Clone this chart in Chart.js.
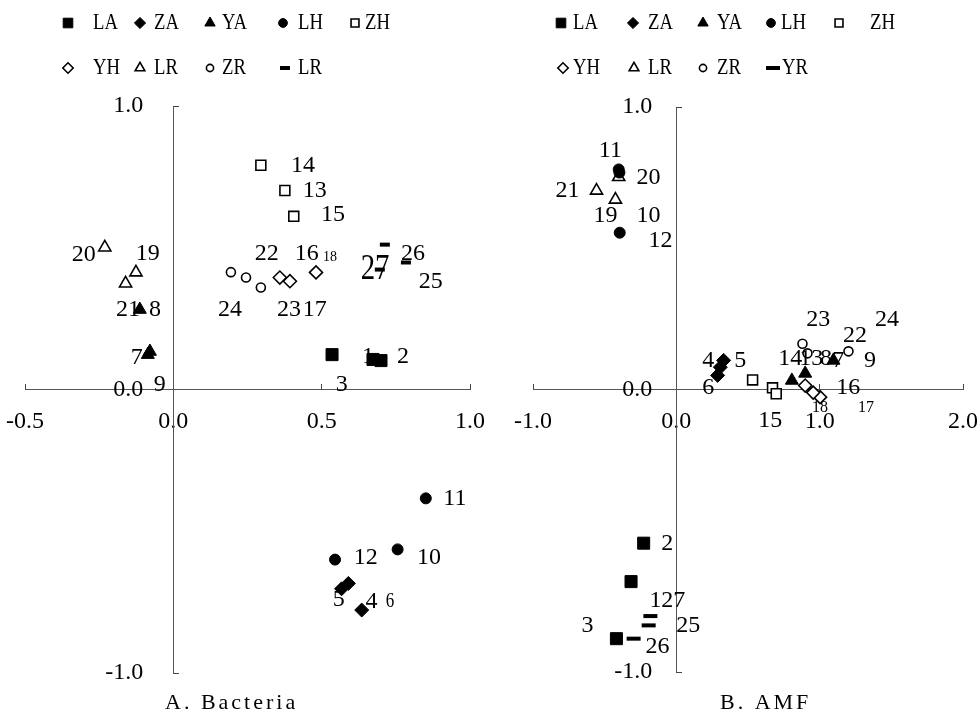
<!DOCTYPE html>
<html>
<head>
<meta charset="utf-8">
<script src="https://cdn.jsdelivr.net/npm/chart.js@4.4.1/dist/chart.umd.min.js"></script>
<style>
  html, body { margin: 0; padding: 0; background: #fff; }
  #wrap { position: relative; width: 977px; height: 716px; }
  #wrap canvas { position: absolute; left: 0; top: 0; }
</style>
</head>
<body>
<div id="wrap">
  <canvas id="bac" width="977" height="716"></canvas>
  <canvas id="amf" width="977" height="716"></canvas>
</div>
<script>
// Group order, 3 samples each: LA 1-3, ZA 4-6, YA 7-9, LH 10-12, ZH 13-15, YH 16-18, LR 19-21, ZR 22-24, YR 25-27
const seriesKeys = ['LA', 'ZA', 'YA', 'LH', 'ZH', 'YH', 'LR', 'ZR', 'YR'];
const bacLegendText = ['LA', 'ZA', 'YA', 'LH', 'ZH', 'YH', 'LR', 'ZR', 'LR'];
const amfLegendText = ['LA', 'ZA', 'YA', 'LH', 'ZH', 'YH', 'LR', 'ZR', 'YR'];

const bacXTicks = [-0.5, 0.0, 0.5, 1.0];
const amfXTicks = [-1.0, 0.0, 1.0, 2.0];
const yTicks = [-1.0, 0.0, 1.0];

// A. Bacteria scores
const bacLA = [[0.673, 0.106], [0.700, 0.102], [0.535, 0.123]];
const bacZA = [[0.635, -0.778], [0.567, -0.703], [0.590, -0.684]];
const bacYA = [[-0.086, 0.123], [-0.113, 0.282], [-0.079, 0.134]];
const bacLH = [[0.756, -0.564], [0.851, -0.384], [0.545, -0.600]];
const bacZH = [[0.376, 0.702], [0.295, 0.791], [0.406, 0.611]];
const bacYH = [[0.481, 0.413], [0.393, 0.382], [0.359, 0.395]];
const bacLR = [[-0.126, 0.413], [-0.231, 0.501], [-0.161, 0.374]];
const bacZR = [[0.245, 0.395], [0.295, 0.360], [0.194, 0.414]];
const bacYR = [[0.784, 0.448], [0.713, 0.511], [0.696, 0.423]];

// B. AMF scores
const amfLA = [[-0.316, -0.680], [-0.228, -0.544], [-0.418, -0.882]];
const amfZA = [[0.330, 0.103], [0.307, 0.079], [0.288, 0.050]];
const amfYA = [[0.899, 0.057], [0.806, 0.032], [1.096, 0.103]];
const amfLH = [[-0.397, 0.768], [-0.402, 0.779], [-0.395, 0.555]];
const amfZH = [[0.671, 0.006], [0.697, -0.015], [0.532, 0.034]];
const amfYH = [[0.899, 0.014], [1.003, -0.027], [0.955, -0.011]];
const amfLR = [[-0.425, 0.672], [-0.402, 0.752], [-0.557, 0.704]];
const amfZR = [[1.201, 0.135], [0.880, 0.162], [0.915, 0.128]];
const amfYR = [[-0.193, -0.835], [-0.298, -0.882], [-0.181, -0.802]];

// sample number labels as placed in the figure: [text, x, y] in axis units
const bacLabels = [
  ['1', 0.656, 0.116], ['2', 0.774, 0.116], ['3', 0.568, 0.018],
  ['4', 0.668, -0.750], ['5', 0.558, -0.741], ['6', 0.730, -0.750],
  ['7', -0.123, 0.113], ['8', -0.062, 0.282], ['9', -0.046, 0.018],
  ['10', 0.862, -0.592], ['11', 0.949, -0.384], ['12', 0.649, -0.592],
  ['13', 0.477, 0.702], ['14', 0.437, 0.790], ['15', 0.538, 0.617],
  ['16', 0.450, 0.480], ['17', 0.477, 0.282], ['18', 0.528, 0.466],
  ['19', -0.086, 0.480], ['20', -0.302, 0.476], ['21', -0.153, 0.282],
  ['22', 0.315, 0.480], ['23', 0.390, 0.282], ['24', 0.191, 0.282],
  ['25', 0.868, 0.381], ['26', 0.808, 0.480], ['27', 0.680, 0.423]
];
const amfLabels = [
  ['1', -0.146, -0.747], ['2', -0.063, -0.545], ['3', -0.620, -0.835],
  ['4', 0.223, 0.103], ['5', 0.446, 0.103], ['6', 0.223, 0.007],
  ['7', 1.129, 0.103], ['8', 1.045, 0.110], ['9', 1.352, 0.103],
  ['10', -0.195, 0.616], ['11', -0.460, 0.846], ['12', -0.111, 0.527],
  ['13', 0.941, 0.110], ['14', 0.794, 0.110], ['15', 0.655, -0.110],
  ['16', 1.199, 0.007], ['17', 1.324, -0.064], ['18', 1.003, -0.064],
  ['19', -0.495, 0.616], ['20', -0.195, 0.750], ['21', -0.760, 0.704],
  ['22', 1.247, 0.191], ['23', 0.990, 0.248], ['24', 1.470, 0.248],
  ['25', 0.084, -0.835], ['26', -0.132, -0.910], ['27', -0.021, -0.747]
];

// ---- styles ----
const FONT = '"Liberation Serif", "DejaVu Serif", serif';
const markStyle = {
  LA: { pointStyle: 'rect', radius: 8.5, filled: true },
  ZA: { pointStyle: 'rectRot', radius: 7, filled: true },
  YA: { pointStyle: 'triangle', radius: 7.5, filled: true },
  LH: { pointStyle: 'circle', radius: 5.5, filled: true },
  ZH: { pointStyle: 'rect', radius: 7, filled: false },
  YH: { pointStyle: 'rectRot', radius: 6.5, filled: false },
  LR: { pointStyle: 'triangle', radius: 7, filled: false },
  ZR: { pointStyle: 'circle', radius: 4.5, filled: false },
  YR: { pointStyle: 'line', radius: 5, filled: true, width: 4 }
};

function makeDatasets(series, yrRadius) {
  return seriesKeys.map((k, i) => {
    const s = markStyle[k];
    return {
      label: k,
      data: series[i].map(([x, y]) => ({ x, y })),
      pointStyle: s.pointStyle,
      pointRadius: k === 'YR' ? yrRadius : s.radius,
      pointBackgroundColor: s.filled ? '#000' : '#fff',
      pointBorderColor: '#000',
      pointBorderWidth: s.width || (s.filled ? 1 : 1.6),
      clip: false
    };
  });
}

function drawText(ctx, text, x, y, size, sx, align, spacing) {
  ctx.save();
  ctx.translate(x, y);
  ctx.scale(sx, 1);
  ctx.font = size + 'px ' + FONT;
  ctx.textAlign = align;
  ctx.textBaseline = 'middle';
  if (spacing) ctx.letterSpacing = spacing;
  ctx.fillText(text, 0, 0);
  ctx.restore();
}

// sample labels, legend rows and caption
const annotate = {
  id: 'annotate',
  afterDatasetsDraw(chart, args, o) {
    const ctx = chart.ctx, xs = chart.scales.x, ys = chart.scales.y;
    ctx.save();
    ctx.fillStyle = '#000';
    o.labels.forEach(([t, vx, vy]) => {
      const f = o.labelFont[t] || [24, 1];
      drawText(ctx, t, xs.getPixelForValue(vx), ys.getPixelForValue(vy), f[0], f[1], 'center');
    });

    seriesKeys.forEach((k, i) => {
      const row = i < 5 ? 0 : 1, col = i < 5 ? i : i - 5;
      const my = o.legendY[row];
      const s = markStyle[k];
      const r = k === 'YR' ? o.yrRadius : s.radius * 0.8;
      ctx.fillStyle = s.filled ? '#000' : '#fff';
      ctx.strokeStyle = '#000';
      ctx.lineWidth = s.width || (s.filled ? 1 : 1.6);
      Chart.helpers.drawPoint(ctx, { pointStyle: s.pointStyle, radius: r, borderWidth: ctx.lineWidth, rotation: 0 },
        o.legendMarkX[row][col], my);
      ctx.fillStyle = '#000';
      drawText(ctx, o.legendText[i], o.legendTextX[row][col], my, 24, 0.78, 'left');
    });

    drawText(ctx, o.caption, o.captionX, 703, 22, 1, 'left', '3px');
    ctx.restore();
  }
};

// axes cross at the origin; they take no layout room, so the padding alone sets the plot box
function axis(ticks, pos, horizontal, gap) {
  return {
    type: 'linear',
    min: ticks[0],
    max: ticks[ticks.length - 1],
    position: pos,
    afterFit: s => {
      if (horizontal) s.height = 0; else s.width = 0;
      s.paddingLeft = s.paddingRight = s.paddingTop = s.paddingBottom = 0;
    },
    afterBuildTicks: s => { s.ticks = ticks.map(v => ({ value: v })); },
    ticks: {
      font: { family: FONT, size: 24 },
      color: '#000',
      padding: 24,
      maxRotation: 0,
      autoSkip: false,
      // y labels sit right-aligned on the axis line, trailing spaces push them off it
      callback: v => Number(v).toFixed(1) + gap
    },
    grid: { drawOnChartArea: false, drawTicks: true, tickLength: -6, color: '#444', lineWidth: 1 },
    border: { display: true, color: '#555', width: 1 }
  };
}

function makeChart(id, series, xTicks, pad, yGap, yrRadius, annot) {
  return new Chart(document.getElementById(id), {
    type: 'scatter',
    data: { datasets: makeDatasets(series, yrRadius) },
    options: {
      responsive: false,
      animation: false,
      events: [],
      layout: { padding: pad },
      plugins: {
        legend: { display: false },
        tooltip: { enabled: false },
        annotate: Object.assign({ yrRadius }, annot)
      },
      scales: {
        x: axis(xTicks, { y: 0 }, true, ''),
        y: axis(yTicks, { x: 0 }, false, yGap)
      }
    },
    plugins: [annotate]
  });
}

makeChart('bac',
  [bacLA, bacZA, bacYA, bacLH, bacZH, bacYH, bacLR, bacZR, bacYR],
  bacXTicks, { left: 25, right: 507, top: 106, bottom: 43 }, '     ', 5,
  {
    labels: bacLabels,
    labelFont: { '27': [36, 0.8], '18': [14, 1], '6': [20, 0.85] },
    legendText: bacLegendText,
    legendY: [23, 68],
    legendMarkX: [[68, 140, 210, 283, 355], [68, 140, 210, 285]],
    legendTextX: [[93, 154, 222, 298, 365], [93, 154, 222, 298]],
    caption: 'A. Bacteria',
    captionX: 165
  });

makeChart('amf',
  [amfLA, amfZA, amfYA, amfLH, amfZH, amfYH, amfLR, amfZR, amfYR],
  amfXTicks, { left: 533, right: 14, top: 107, bottom: 44 }, '    ', 7,
  {
    labels: amfLabels,
    labelFont: { '17': [16, 1], '18': [16, 1] },
    legendText: amfLegendText,
    legendY: [23, 68],
    legendMarkX: [[561, 633, 703, 771, 839], [563, 634, 703, 773]],
    legendTextX: [[573, 648, 717, 781, 870], [573, 648, 717, 782]],
    caption: 'B. AMF',
    captionX: 720
  });
</script>
</body>
</html>
